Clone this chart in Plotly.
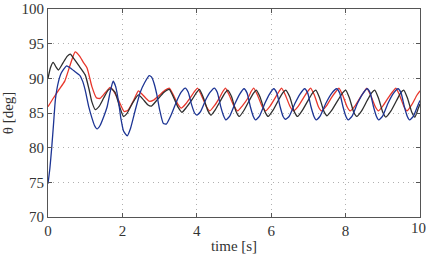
import plotly.graph_objects as go

# ---- data ----
red_t = [0, 0.15, 0.3, 0.45, 0.6, 0.73, 0.85, 0.95, 1.05, 1.18, 1.3, 1.4, 1.55, 1.67, 1.75, 1.9, 2.05, 2.15,
         2.3, 2.43, 2.55, 2.72, 2.85, 3.0, 3.15, 3.26, 3.35, 3.5, 3.58, 3.7, 3.85, 3.95, 4.02,
         4.12, 4.26, 4.35, 4.48, 4.62, 4.7, 4.77, 4.87, 5.0, 5.1, 5.22, 5.38, 5.46, 5.53,
         5.63, 5.76, 5.85, 5.97, 6.12, 6.21, 6.28, 6.38, 6.51, 6.6, 6.73, 6.88, 6.98, 7.06,
         7.16, 7.27, 7.35, 7.48, 7.63, 7.74, 7.82, 7.92, 8.04, 8.12, 8.25, 8.4, 8.5, 8.57,
         8.67, 8.8, 8.88, 9.0, 9.16, 9.27, 9.35, 9.45, 9.57, 9.65, 9.78, 9.92, 10.0]
red_v = [85.9, 87.2, 88.4, 89.6, 92.0, 93.8, 93.2, 92.3, 91.5, 88.8, 87.2, 87.1, 88.0, 88.7, 88.3, 86.8, 85.2, 85.4,
         86.8, 88.2, 87.6, 86.7, 86.9, 87.6, 88.3, 88.6, 87.8, 86.2, 85.7, 86.3, 87.4, 88.2, 88.6,
         87.6, 85.9, 85.3, 86.1, 87.3, 88.1, 88.6, 87.6, 86.0, 85.3, 86.0, 87.2, 88.1, 88.6,
         87.6, 85.9, 85.3, 86.0, 87.3, 88.1, 88.6, 87.6, 85.9, 85.3, 86.0, 87.3, 88.1, 88.6,
         87.6, 85.9, 85.3, 86.0, 87.3, 88.1, 88.6, 87.6, 85.9, 85.3, 86.0, 87.3, 88.1, 88.6,
         87.6, 85.9, 85.3, 86.0, 87.3, 88.1, 88.6, 87.6, 85.9, 85.3, 86.2, 87.6, 88.2]

black_t = [0, 0.07, 0.14, 0.22, 0.28, 0.4, 0.52, 0.6, 0.7, 0.82, 1.0, 1.1, 1.18, 1.27, 1.38, 1.5, 1.62, 1.7,
           1.8, 1.92, 2.03, 2.12, 2.28, 2.43, 2.55, 2.68, 2.78, 2.95, 3.12, 3.26, 3.38, 3.5, 3.6,
           3.72, 3.88, 4.0, 4.07, 4.17, 4.3, 4.38, 4.5, 4.65, 4.76, 4.83, 4.93, 5.05, 5.14,
           5.27, 5.42, 5.53, 5.6, 5.7, 5.83, 5.92, 6.05, 6.2, 6.31, 6.39, 6.5, 6.62, 6.71,
           6.84, 7.0, 7.1, 7.2, 7.3, 7.42, 7.5, 7.63, 7.8, 7.92, 8.0, 8.1, 8.22, 8.3,
           8.43, 8.58, 8.7, 8.78, 8.88, 9.0, 9.08, 9.22, 9.37, 9.48, 9.56, 9.66, 9.78, 9.86,
           9.95, 10.0]
black_v = [90.0, 91.6, 92.3, 91.6, 91.2, 92.2, 93.2, 93.5, 92.8, 91.9, 90.5, 88.5, 86.6, 85.5, 86.0, 87.2, 88.3, 88.5,
           88.0, 86.0, 84.5, 84.9, 86.5, 87.6, 87.0, 86.2, 86.0, 87.0, 88.0, 88.4, 87.2, 85.8, 85.1,
           85.8, 87.0, 88.0, 88.4, 87.3, 85.3, 84.7, 85.5, 86.9, 87.9, 88.3, 87.4, 85.3, 84.5,
           85.4, 86.9, 87.9, 88.3, 87.3, 85.2, 84.5, 85.4, 86.9, 87.9, 88.3, 87.3, 85.2, 84.5,
           85.4, 86.9, 87.8, 88.3, 87.2, 85.2, 84.6, 85.4, 86.9, 87.9, 88.3, 87.2, 85.1, 84.5,
           85.3, 86.8, 87.9, 88.3, 87.2, 85.1, 84.4, 85.3, 86.8, 87.9, 88.3, 87.2, 85.1, 84.4,
           85.6, 86.3]

blue_t = [0, 0.05, 0.1, 0.15, 0.2, 0.28, 0.36, 0.5, 0.6, 0.72, 0.86, 0.93, 1.0, 1.1, 1.18, 1.25, 1.32, 1.4,
          1.5, 1.59, 1.67, 1.75, 1.82, 1.9, 1.96, 2.03, 2.13, 2.22, 2.35, 2.48, 2.6, 2.72, 2.78,
          2.85, 2.92, 3.0, 3.1, 3.18, 3.3, 3.45, 3.58, 3.69,
          3.77, 3.86, 3.94, 4.0, 4.1, 4.24, 4.36, 4.47, 4.55, 4.64, 4.72, 4.78, 4.88, 5.03, 5.15, 5.27,
          5.35, 5.44, 5.52, 5.58, 5.68, 5.83, 5.95, 6.07, 6.15, 6.24, 6.32, 6.38, 6.48, 6.64, 6.77, 6.9,
          6.98, 7.07, 7.15, 7.21, 7.31, 7.47, 7.62, 7.76, 7.84, 7.93, 8.01, 8.07, 8.17, 8.32, 8.45, 8.58,
          8.66, 8.75, 8.83, 8.89, 8.99, 9.14, 9.28, 9.41, 9.49, 9.58, 9.66, 9.72, 9.82, 9.95, 10.0]
blue_v = [74.8, 77.0, 80.0, 83.5, 87.0, 89.5, 90.8, 91.8, 91.5, 91.0, 90.4, 89.6, 88.3, 85.8, 84.3, 83.2, 82.7, 83.2,
          84.5, 85.9, 88.0, 89.6, 88.8, 86.5, 84.2, 82.4, 81.7, 82.8, 85.5, 88.0, 89.4, 90.4, 90.2,
          89.3, 87.8, 85.5, 83.5, 83.4, 84.6, 86.6, 88.0, 88.6,
          88.0, 86.2, 85.0, 84.7, 85.2, 86.9, 88.0, 88.6, 88.0, 86.0, 84.6, 84.0, 84.5, 86.4, 87.7, 88.5,
          87.9, 85.9, 84.5, 84.0, 84.5, 86.4, 87.7, 88.5, 87.9, 85.9, 84.5, 84.1, 84.5, 86.4, 87.7, 88.5,
          87.9, 85.9, 84.5, 84.0, 84.5, 86.4, 87.8, 88.5, 87.9, 85.9, 84.5, 84.0, 84.5, 86.4, 87.7, 88.5,
          87.9, 85.9, 84.5, 84.0, 84.5, 86.4, 87.8, 88.5, 87.9, 85.9, 84.5, 84.0, 84.5, 86.2, 86.8]

x_ticks = [0, 2, 4, 6, 8, 10]
x_ticktext = ["0", "2", "4", "6", "8", ""]   # last label drawn as annotation (sits at the page edge)
x_last_label = "10"
y_ticks = [70, 75, 80, 85, 90, 95, 100]

FONT = "Liberation Serif"

fig = go.Figure()
fig.add_trace(go.Scatter(x=red_t, y=red_v, mode="lines",
                         line=dict(color="#e8362b", width=1.3, shape="spline", smoothing=0.5)))
fig.add_trace(go.Scatter(x=black_t, y=black_v, mode="lines",
                         line=dict(color="#2e2e2e", width=1.3, shape="spline", smoothing=0.5)))
fig.add_trace(go.Scatter(x=blue_t, y=blue_v, mode="lines",
                         line=dict(color="#1c3494", width=1.3, shape="spline", smoothing=0.5)))

axis_common = dict(showline=True, linecolor="#555", linewidth=1, mirror="allticks",
                   ticks="inside", ticklen=4, tickcolor="#555", automargin=False,
                   showgrid=True, gridcolor="#b0b0b0", griddash="1px,4px", gridwidth=1,
                   zeroline=False, tickfont=dict(family=FONT, size=15, color="#333"))

fig.update_layout(
    width=426, height=254,
    margin=dict(l=48, r=6, t=9, b=37),
    paper_bgcolor="white", plot_bgcolor="white",
    showlegend=False,
    font=dict(family=FONT, color="#333"),
    xaxis=dict(range=[0, 10], tickvals=x_ticks, ticktext=x_ticktext, **axis_common,
               title=dict(text="time [s]", font=dict(family=FONT, size=15), standoff=4)),
    yaxis=dict(range=[70, 100], tickvals=y_ticks, **axis_common,
               title=dict(text="θ [deg]", font=dict(family=FONT, size=15), standoff=6)),
)
fig.add_annotation(x=1.0, y=0, xref="paper", yref="paper", text=x_last_label,
                   showarrow=False, xanchor="center", yanchor="top", yshift=-1, xshift=-2,
                   font=dict(family=FONT, size=15, color="#333"))

fig.write_html("out.html")
